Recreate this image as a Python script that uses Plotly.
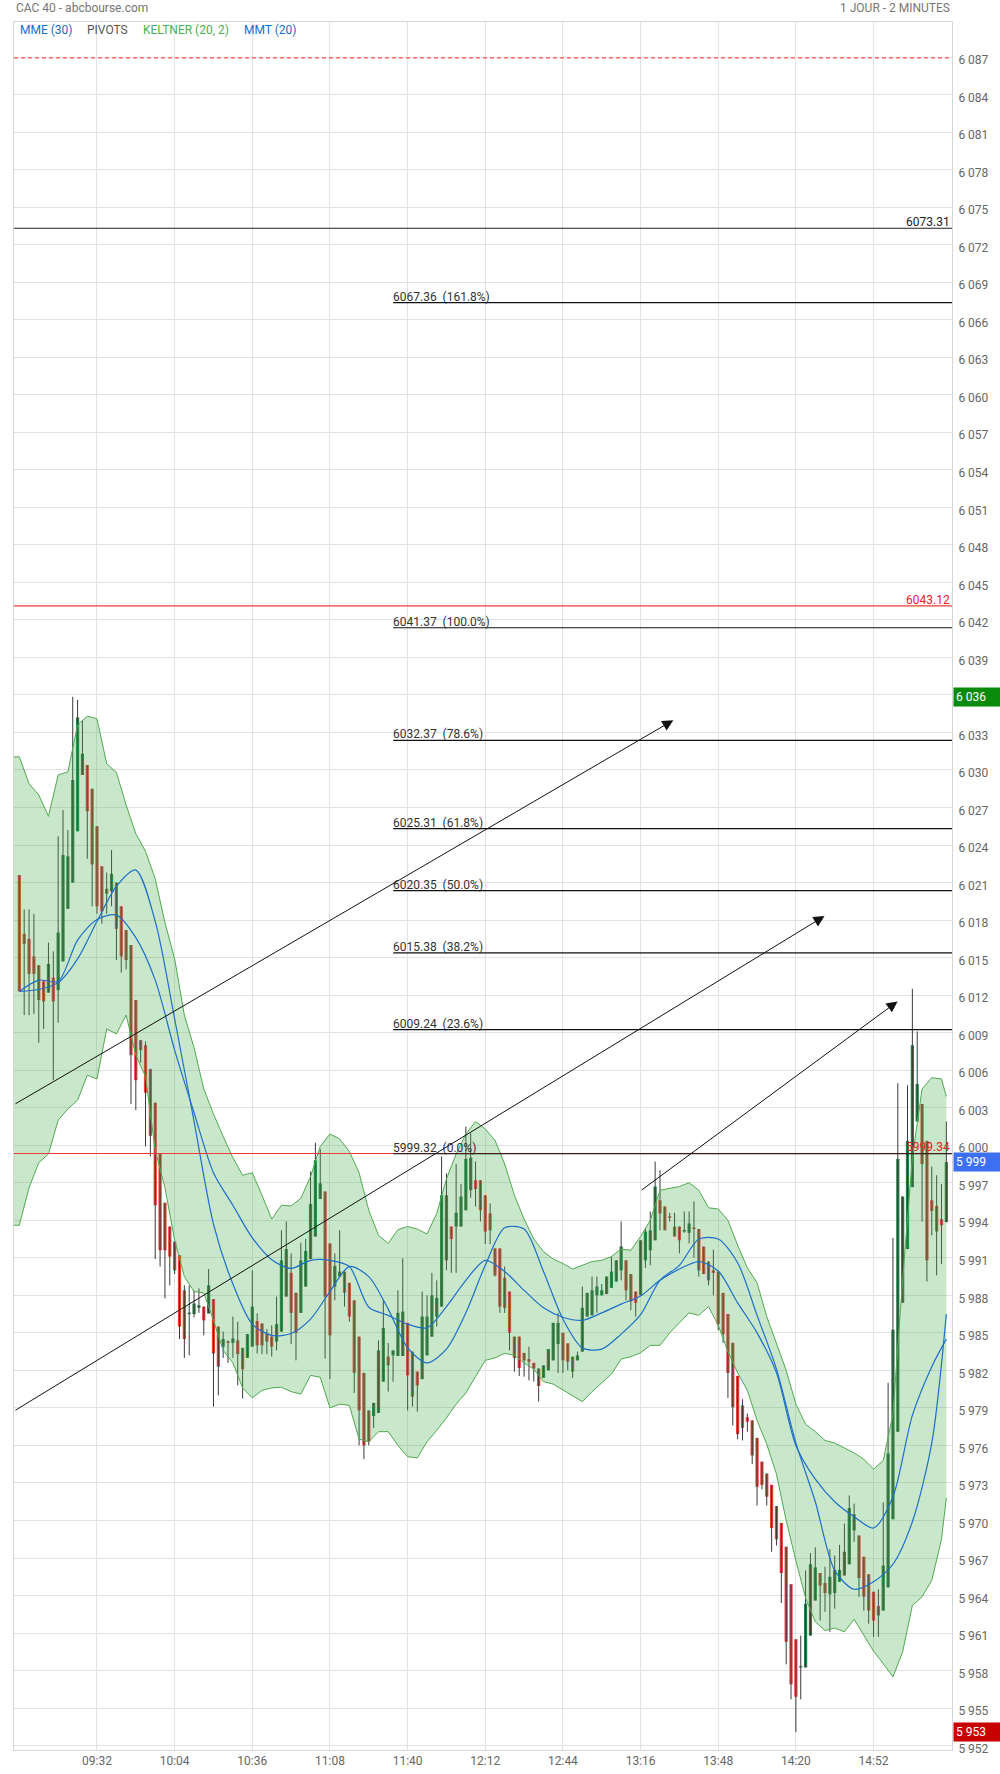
import plotly.graph_objects as go
import pandas as pd

# ---------------- data ----------------
DAY = "2019-11-29"
START = pd.Timestamp(f"{DAY} 09:00")
STEP = pd.Timedelta(minutes=2)

opens = [6021.6, 6016.9, 6016.5, 6015.1, 6014.4, 6013.1, 6012.2, 6013.4, 6012.4, 6014.7,
         6018.9, 6021.0, 6025.1, 6029.6, 6030.4, 6028.5, 6025.5, 6022.3, 6020.5, 6020.3,
         6021.0, 6019.1, 6017.2, 6016.0, 6011.6, 6008.4, 6008.0, 6006.1, 6003.4, 5999.3,
         5995.4, 5993.5, 5992.3, 5991.2, 5988.4, 5986.5, 5986.5, 5987.0, 5987.1, 5986.55,
         5987.7, 5985.5, 5983.9, 5984.3, 5984.2, 5984.4, 5983.8, 5983.0, 5983.9, 5985.95,
         5985.75, 5984.95, 5984.7, 5984.3, 5985.1, 5987.9, 5989.8, 5988.2, 5986.6, 5988.7,
         5990.9, 5992.7, 5995.7, 5996.3, 5992.15, 5988.7, 5989.5, 5989.9, 5989.0, 5987.6,
         5984.7, 5981.8, 5978.8, 5978.35, 5978.6, 5981.1, 5983.1, 5983.2, 5983.15, 5983.15,
         5985.8, 5983.5, 5981.9, 5981.3, 5983.2, 5984.7, 5986.3, 5987.1, 5990.8, 5993.5,
         5993.5, 5993.5, 5994.8, 5996.4, 5997.2, 5997.2, 5996.0, 5994.55, 5991.75, 5991.75,
         5989.4, 5988.3, 5984.7, 5984.7, 5983.4, 5982.9, 5982.6, 5982.15, 5981.4, 5982.0,
         5982.8, 5984.1, 5985.0, 5984.16, 5983.1, 5982.8, 5983.5, 5986.3, 5986.4, 5988.0,
         5988.0, 5988.1, 5988.6, 5989.1, 5990.0, 5990.8, 5989.7, 5988.3, 5988.0, 5990.8,
         5991.6, 5992.4, 5995.6, 5995.1, 5994.3, 5993.5, 5993.5, 5993.1, 5993.0, 5993.4,
         5993.3, 5991.9, 5990.7, 5990.0, 5989.9, 5988.2, 5986.5, 5984.2, 5981.56, 5979.2,
         5978.25, 5978.0, 5976.6, 5974.7, 5973.75, 5972.85, 5971.15, 5969.8, 5967.9, 5964.9,
         5960.5, 5958.25, 5958.25, 5960.8, 5963.6, 5965.8, 5965.0, 5964.1, 5964.2, 5965.1,
         5965.6, 5966.5, 5969.2, 5968.8, 5967.1, 5965.7, 5964.3, 5963.15, 5962.8, 5964.65,
         5970.1, 5977.1, 5987.4, 5991.7, 5996.65, 6001.9, 6003.3, 6000.35, 5995.6, 5995.15,
         5994.1, 5993.85]

highs = [6021.6, 6018.85, 6018.85, 6018.5, 6014.4, 6013.2, 6016.2, 6015.5, 6024.7, 6026.8,
         6025.2, 6035.85, 6035.6, 6034.0, 6030.4, 6028.5, 6025.5, 6022.3, 6021.8, 6023.6,
         6021.0, 6019.1, 6017.2, 6016.0, 6011.6, 6008.4, 6008.3, 6006.1, 6003.4, 5999.3,
         5995.4, 5993.5, 5992.3, 5991.2, 5988.8, 5988.8, 5988.4, 5988.55, 5987.1, 5990.1,
         5987.7, 5985.5, 5985.1, 5984.4, 5986.3, 5985.9, 5983.8, 5984.9, 5990.0, 5986.55,
         5985.75, 5985.3, 5985.6, 5987.9, 5993.2, 5993.9, 5991.35, 5988.2, 5992.2, 5992.5,
         5997.9, 6000.2, 5999.7, 5996.3, 5992.15, 5991.35, 5993.2, 5989.9, 5989.0, 5987.6,
         5984.7, 5981.8, 5978.8, 5979.4, 5984.4, 5987.6, 5984.2, 5983.6, 5988.4, 5990.96,
         5985.8, 5983.5, 5981.9, 5988.3, 5988.0, 5989.8, 5989.2, 5999.1, 5997.75, 5993.5,
         5998.5, 5996.9, 6001.5, 6000.95, 5998.7, 5997.2, 5996.0, 5995.35, 5991.75, 5991.75,
         5990.3, 5988.3, 5984.7, 5984.7, 5983.4, 5983.9, 5982.6, 5982.15, 5982.4, 5983.7,
         5985.8, 5986.6, 5985.0, 5984.16, 5983.1, 5983.5, 5988.7, 5988.2, 5989.5, 5989.5,
         5988.9, 5989.5, 5991.1, 5990.8, 5993.9, 5990.8, 5989.7, 5988.3, 5992.4, 5993.4,
         5994.7, 5998.7, 5998.0, 5995.1, 5994.6, 5994.6, 5993.5, 5994.7, 5994.7, 5995.5,
         5993.3, 5991.9, 5990.7, 5991.65, 5989.9, 5988.2, 5986.5, 5984.2, 5981.56, 5979.7,
         5978.55, 5978.0, 5976.6, 5974.7, 5973.75, 5972.85, 5971.15, 5969.8, 5967.9, 5964.9,
         5960.5, 5960.8, 5966.0, 5967.4, 5967.85, 5965.8, 5966.3, 5967.7, 5967.2, 5968.05,
         5969.75, 5972.0, 5971.35, 5968.8, 5967.1, 5965.7, 5964.3, 5964.5, 5971.45, 5981.0,
         5992.6, 6004.96, 5995.9, 6004.8, 6012.5, 6009.1, 6003.3, 6000.35, 5998.3, 5997.6,
         5996.9, 6001.9]

lows = [6012.3, 6010.4, 6010.4, 6010.5, 6008.2, 6009.3, 6012.2, 6005.2, 6009.8, 6014.7,
        6018.9, 6021.0, 6025.1, 6029.6, 6022.9, 6019.1, 6018.5, 6017.7, 6018.5, 6019.1,
        6014.8, 6013.8, 6014.05, 6003.3, 6002.8, 6006.6, 5999.9, 5999.1, 5990.9, 5990.3,
        5987.75, 5988.8, 5989.7, 5984.5, 5983.0, 5983.2, 5986.25, 5986.6, 5984.8, 5986.55,
        5979.1, 5980.0, 5983.0, 5982.6, 5983.0, 5980.8, 5979.75, 5983.0, 5983.9, 5983.35,
        5983.3, 5983.3, 5983.1, 5983.6, 5985.1, 5987.9, 5984.1, 5982.8, 5986.6, 5988.7,
        5990.9, 5992.7, 5995.7, 5982.95, 5981.3, 5987.6, 5989.5, 5987.1, 5985.9, 5980.2,
        5976.0, 5974.9, 5976.0, 5977.4, 5978.6, 5981.1, 5980.3, 5981.1, 5983.15, 5983.15,
        5978.8, 5979.1, 5978.7, 5981.3, 5983.2, 5984.7, 5985.5, 5987.1, 5990.0, 5989.8,
        5989.8, 5993.5, 5994.8, 5995.8, 5995.1, 5993.9, 5992.1, 5992.1, 5989.5, 5986.6,
        5986.6, 5983.6, 5981.9, 5981.55, 5981.5, 5981.2, 5981.1, 5979.5, 5981.4, 5982.0,
        5982.8, 5981.8, 5981.8, 5982.0, 5981.4, 5982.8, 5983.5, 5986.3, 5986.4, 5986.6,
        5988.0, 5988.1, 5988.6, 5989.1, 5989.2, 5987.6, 5986.8, 5986.3, 5988.0, 5990.2,
        5990.4, 5992.4, 5993.2, 5993.2, 5993.9, 5992.7, 5991.35, 5993.0, 5992.15, 5991.0,
        5989.5, 5989.7, 5988.8, 5988.0, 5985.2, 5984.2, 5979.8, 5977.6, 5976.5, 5976.4,
        5977.1, 5974.5, 5971.2, 5972.5, 5971.2, 5967.5, 5968.0, 5963.4, 5958.5, 5955.7,
        5953.1, 5955.7, 5958.25, 5960.8, 5963.6, 5962.0, 5962.7, 5961.1, 5962.95, 5965.1,
        5965.6, 5966.5, 5968.3, 5963.9, 5962.8, 5961.75, 5960.7, 5960.7, 5962.8, 5964.65,
        5970.1, 5977.1, 5987.4, 5991.7, 5996.65, 6001.9, 5993.9, 5989.1, 5992.8, 5989.6,
        5990.5, 5993.85]

closes = [6012.3, 6016.1, 6013.7, 6013.7, 6011.6, 6011.5, 6014.5, 6011.5, 6017.0, 6023.2,
          6023.1, 6029.2, 6034.2, 6031.3, 6026.7, 6022.45, 6019.1, 6018.7, 6020.1, 6021.7,
          6017.3, 6015.1, 6014.8, 6007.2, 6005.2, 6007.6, 6004.2, 6000.75, 5995.2, 5991.6,
          5991.6, 5991.1, 5990.0, 5985.5, 5984.5, 5986.6, 5987.35, 5987.2, 5986.0, 5988.8,
          5983.35, 5982.3, 5984.5, 5984.2, 5984.55, 5983.3, 5982.1, 5984.9, 5987.1, 5984.0,
          5984.0, 5984.3, 5983.9, 5985.7, 5990.8, 5991.7, 5986.6, 5985.0, 5990.8, 5991.55,
          5995.3, 5998.8, 5996.95, 5987.9, 5984.8, 5990.35, 5989.9, 5988.2, 5986.3, 5981.8,
          5978.8, 5976.0, 5976.3, 5979.4, 5983.6, 5985.4, 5982.4, 5983.6, 5986.6, 5986.7,
          5981.6, 5979.9, 5980.8, 5986.3, 5986.3, 5988.0, 5987.8, 5996.0, 5996.0, 5992.5,
          5994.6, 5995.9, 5998.9, 5999.0, 5996.5, 5994.8, 5993.1, 5993.2, 5989.6, 5987.1,
          5987.0, 5985.0, 5983.0, 5982.2, 5982.8, 5982.7, 5982.15, 5980.75, 5982.4, 5983.7,
          5985.8, 5985.8, 5982.8, 5982.7, 5981.9, 5983.2, 5987.0, 5988.2, 5988.4, 5988.7,
          5988.4, 5989.5, 5989.9, 5990.8, 5991.9, 5988.4, 5987.5, 5987.4, 5992.4, 5993.1,
          5993.2, 5996.7, 5994.55, 5993.2, 5994.2, 5992.7, 5992.4, 5993.2, 5993.75, 5993.3,
          5990.0, 5989.7, 5989.2, 5989.8, 5985.7, 5984.9, 5981.8, 5979.05, 5976.9, 5977.4,
          5977.9, 5975.2, 5972.7, 5972.85, 5971.9, 5969.4, 5968.5, 5965.8, 5960.3, 5956.9,
          5955.9, 5958.3, 5963.35, 5966.5, 5966.25, 5964.8, 5964.2, 5965.5, 5966.05, 5966.05,
          5967.5, 5971.0, 5970.5, 5965.4, 5963.9, 5962.8, 5962.0, 5962.4, 5966.4, 5975.35,
          5985.25, 5998.9, 5995.9, 6000.35, 6008.0, 6004.9, 5998.5, 5990.8, 5994.75, 5993.1,
          5993.6, 5998.65]

# Keltner (20, 2) channel read every 2 bars (bar index -> value)
band_idx = [-1.2] + list(range(0, 191, 2)) + [191]
kelt_upper = [6031.05, 6031.05, 6028.9, 6028.0, 6026.3, 6029.6, 6029.85, 6033.6, 6034.3, 6034.1,
              6030.5, 6029.8, 6027.2, 6024.9, 6023.5, 6021.3, 6017.8, 6014.9, 6010.4, 6007.8,
              6004.5, 6002.5, 6000.7, 5999.0, 5997.6, 5997.8, 5996.0, 5994.1, 5995.2, 5995.15,
              5995.75, 5997.5, 5999.9, 6000.9, 6000.5, 5999.5, 5997.8, 5994.8, 5992.8, 5992.15,
              5993.25, 5993.5, 5993.3, 5992.9, 5994.55, 5997.3, 5999.3, 6000.9, 6001.9, 6001.3,
              6000.4, 5998.5, 5996.0, 5994.1, 5992.5, 5991.5, 5990.9, 5990.55, 5990.1, 5990.4,
              5990.7, 5990.8, 5991.1, 5991.7, 5991.6, 5992.7, 5994.0, 5996.4, 5996.55, 5996.7,
              5997.0, 5996.4, 5995.0, 5994.9, 5994.0, 5992.0, 5990.2, 5989.0, 5986.3, 5984.2,
              5982.0, 5979.3, 5977.7, 5977.1, 5976.4, 5976.2, 5975.8, 5975.4, 5974.9, 5974.1,
              5974.8, 5978.5, 5989.3, 5999.0, 6004.5, 6005.4, 6005.3, 6003.9]
kelt_lower = [5993.6, 5993.6, 5996.6, 5998.6, 5999.3, 6002.0, 6002.9, 6003.6, 6005.6, 6005.3,
              6009.3, 6008.9, 6010.4, 6007.2, 6005.5, 5999.6, 5996.6, 5992.4, 5989.5, 5988.3,
              5988.2, 5986.0, 5983.6, 5982.6, 5980.6, 5979.8, 5980.4, 5980.6, 5980.65, 5980.3,
              5980.1, 5981.6, 5981.45, 5979.0, 5979.3, 5979.2, 5976.5, 5976.3, 5977.1, 5977.1,
              5976.0, 5975.1, 5975.0, 5976.3, 5977.2, 5978.2, 5979.3, 5980.2, 5981.5, 5982.8,
              5983.0, 5983.36, 5983.2, 5982.6, 5982.1, 5981.1, 5980.9, 5980.45, 5980.0, 5979.5,
              5980.3, 5981.0, 5981.7, 5982.9, 5983.1, 5983.4, 5984.0, 5984.0, 5985.0, 5985.8,
              5986.6, 5986.4, 5987.1, 5985.6, 5983.5, 5981.8, 5980.4, 5978.0, 5976.1, 5973.7,
              5970.0, 5966.8, 5963.8, 5961.9, 5961.2, 5961.4, 5961.1, 5962.1, 5960.8, 5959.55,
              5958.55, 5957.5, 5959.5, 5963.2, 5963.9, 5965.2, 5968.5, 5971.8]

# moving averages read every 4 bars
ma_idx = list(range(0, 189, 4)) + [191]
mmt20 = [6012.3, 6012.45, 6013.0, 6014.9, 6017.9, 6020.7, 6022.0, 6017.9, 6010.1, 6001.9,
         5993.7, 5988.9, 5985.7, 5984.8, 5984.95, 5986.1, 5988.3, 5990.3, 5989.5, 5986.9,
         5983.8, 5982.6, 5983.7, 5986.6, 5990.4, 5993.4, 5993.3, 5989.9, 5986.1, 5983.8,
         5983.7, 5984.9, 5986.45, 5989.2, 5990.4, 5992.5, 5992.5, 5990.6, 5986.4, 5982.1,
         5976.2, 5971.5, 5966.0, 5964.5, 5965.1, 5966.5, 5969.9, 5976.2, 5986.5]
mme30 = [6012.3, 6013.2, 6013.1, 6016.4, 6018.05, 6018.4, 6016.6, 6013.2, 6007.6, 6002.6,
         5997.8, 5995.2, 5992.6, 5990.85, 5990.15, 5990.8, 5990.8, 5990.3, 5987.05, 5986.4,
         5985.7, 5985.4, 5987.1, 5989.2, 5990.8, 5989.9, 5988.4, 5987.0, 5986.25, 5986.0,
         5986.6, 5987.3, 5987.95, 5989.2, 5990.1, 5990.7, 5989.95, 5987.4, 5985.0, 5981.8,
         5976.0, 5973.3, 5971.5, 5970.3, 5969.4, 5971.9, 5978.4, 5982.3, 5984.5]

# pivots (full width)
pivot_dashed = 6086.93
pivot_black = 6073.31
pivot_red = [6043.12, 5999.34]

# Fibonacci retracement levels
fib_start = f"{DAY} 11:34:04"
fib_levels = [6067.36, 6041.37, 6032.37, 6025.31, 6020.35, 6015.38, 6009.24, 5999.32]
fib_pcts = ["161.8%", "100.0%", "78.6%", "61.8%", "50.0%", "38.2%", "23.6%", "0.0%"]

# trend arrows: (start time, start price, tip time, tip price)
trend_lines = [
    (f"{DAY} 08:57:46", 6003.24, f"{DAY} 13:29:30", 6033.98),
    (f"{DAY} 08:57:46", 5978.74, f"{DAY} 14:31:48", 6018.32),
    (f"{DAY} 13:15:48", 5996.33, f"{DAY} 15:01:54", 6011.5),
]

x_ticks = ["09:32", "10:04", "10:36", "11:08", "11:40", "12:12", "12:44", "13:16", "13:48", "14:20", "14:52"]

# ---------------- styles ----------------
FONT = "Roboto, 'Open Sans', Arial, sans-serif"
UP = "#2b7d45"
DOWN = "#e8413c"
WICK = "#3a3a3a"
BAND_LINE = "#52a852"
BAND_FILL = "rgba(76,175,80,0.30)"
MA_BLUE = "#1f6fc8"
RED = "#f03a3a"
GRID = "#e2e2e2"

times = [START + k * STEP for k in range(len(opens))]

fig = go.Figure()

# wicks
wx, wy = [], []
for t, h, l in zip(times, highs, lows):
    wx += [t, t, None]
    wy += [l, h, None]
fig.add_trace(go.Scatter(x=wx, y=wy, mode="lines", line=dict(color=WICK, width=1),
                         hoverinfo="skip", connectgaps=False))

# bodies
for is_up, col in [(True, UP), (False, DOWN)]:
    bx, bb, bh = [], [], []
    for t, o, c in zip(times, opens, closes):
        if (c >= o) == is_up:
            bx.append(t)
            bb.append(min(o, c))
            bh.append(max(abs(c - o), 0.12))
    fig.add_trace(go.Bar(x=bx, y=bh, base=bb, width=80000,
                         marker=dict(color=col, line=dict(width=0)), hoverinfo="skip"))

# Keltner band (drawn over candles)
bt = [START + STEP * k for k in band_idx]
fig.add_trace(go.Scatter(x=bt, y=kelt_lower, mode="lines",
                         line=dict(color=BAND_LINE, width=1), hoverinfo="skip"))
fig.add_trace(go.Scatter(x=bt, y=kelt_upper, mode="lines", fill="tonexty",
                         fillcolor=BAND_FILL, line=dict(color=BAND_LINE, width=1), hoverinfo="skip"))

# moving averages
mt = [START + STEP * k for k in ma_idx]
fig.add_trace(go.Scatter(x=mt, y=mme30, mode="lines", line=dict(color=MA_BLUE, width=1.2, shape="spline", smoothing=0.8), hoverinfo="skip"))
fig.add_trace(go.Scatter(x=mt, y=mmt20, mode="lines", line=dict(color=MA_BLUE, width=1.2, shape="spline", smoothing=0.8), hoverinfo="skip"))

x_range = [f"{DAY} 08:57:48", f"{DAY} 15:24:20"]

shapes = []
shapes.append(dict(type="line", xref="paper", x0=0, x1=1, yref="y", y0=pivot_dashed, y1=pivot_dashed,
                   line=dict(color="#ff2a2a", width=1, dash="4px,3px"), layer="above"))
shapes.append(dict(type="line", xref="paper", x0=0, x1=1, yref="y", y0=pivot_black, y1=pivot_black,
                   line=dict(color="#222222", width=1), layer="above"))
for v in pivot_red:
    shapes.append(dict(type="line", xref="paper", x0=0, x1=1, yref="y", y0=v, y1=v,
                       line=dict(color=RED, width=1.2), layer="above"))
for v in fib_levels:
    shapes.append(dict(type="line", xref="x", x0=fib_start, x1=x_range[1], yref="y", y0=v, y1=v,
                       line=dict(color="#111111", width=1.2), layer="above"))

ann = []
# header
ann.append(dict(text="CAC 40 - abcbourse.com", xref="paper", yref="paper", x=0, y=1,
                xanchor="left", yanchor="bottom", yshift=5, showarrow=False,
                font=dict(family=FONT, size=12, color="#777777")))
ann.append(dict(text="1 JOUR - 2 MINUTES", xref="paper", yref="paper", x=1, y=1,
                xanchor="right", yanchor="bottom", yshift=5, showarrow=False,
                font=dict(family=FONT, size=12, color="#777777")))
# indicator legend
legend_items = [("MME (30)", "#1a6cc4", 19), ("PIVOTS", "#555555", 86), ("KELTNER (20, 2)", "#4caf50", 142), ("MMT (20)", "#1a6cc4", 243)]
for txt, col, px in legend_items:
    ann.append(dict(text=txt, xref="paper", yref="paper", x=(px - 15) / 937, y=1,
                    xanchor="left", yanchor="top", yshift=1, showarrow=False,
                    font=dict(family=FONT, size=12, color=col)))
# pivot labels
ann.append(dict(text=f"{pivot_black:.2f}", xref="paper", x=1, xanchor="right", y=pivot_black, yref="y",
                yanchor="bottom", yshift=-3, showarrow=False, font=dict(family=FONT, size=12, color="#222222")))
for v in pivot_red:
    ann.append(dict(text=f"{v:.2f}", xref="paper", x=1, xanchor="right", y=v, yref="y",
                    yanchor="bottom", yshift=-3, showarrow=False, font=dict(family=FONT, size=12, color="#ee2020")))
# fib labels
for v, p in zip(fib_levels, fib_pcts):
    ann.append(dict(text=f"{v:.2f}\u00a0\u00a0({p})", xref="x", x=fib_start, xanchor="left", y=v, yref="y",
                    yanchor="bottom", yshift=-3, xshift=-2, showarrow=False,
                    font=dict(family=FONT, size=12, color="#333333")))
# trend arrows
for x0, y0, x1, y1 in trend_lines:
    ann.append(dict(text="", x=x1, y=y1, xref="x", yref="y", ax=x0, ay=y0, axref="x", ayref="y",
                    showarrow=True, arrowhead=2, arrowsize=2.2, arrowwidth=1, arrowcolor="#111111"))
# price boxes on the right axis
def fmt(v):
    s = f"{round(v):d}"
    return s[0] + " " + s[1:]
boxes = [(max(highs), "#0a8a0a"), (closes[-1], "#3d6ff2"), (min(lows), "#c80000")]
for v, bg in boxes:
    ann.append(dict(text=fmt(v), xref="paper", x=1, xanchor="left", xshift=1, y=v, yref="y",
                    yanchor="middle", showarrow=False, bgcolor=bg, width=42, align="left", borderpad=2,
                    font=dict(family=FONT, size=12, color="white")))

fig.update_layout(
    width=1000, height=1774,
    margin=dict(l=14, r=48, t=22, b=24, autoexpand=False),
    paper_bgcolor="white", plot_bgcolor="white",
    showlegend=False, barmode="overlay", hovermode=False,
    separators=". ",
    font=dict(family=FONT, size=12, color="#666666"),
    shapes=shapes, annotations=ann,
    xaxis=dict(type="date", range=x_range, automargin=False,
               tickvals=[f"{DAY} {t}" for t in x_ticks], ticktext=x_ticks,
               showgrid=True, gridcolor=GRID, gridwidth=1,
               showline=True, linecolor="#d6d6d6", mirror=True, zeroline=False,
               ticks="", tickfont=dict(family=FONT, size=12, color="#666666")),
    yaxis=dict(side="right", range=[5951.65, 6089.8], dtick=3, tick0=0, tickformat=",d",
               automargin=False,
               showgrid=True, gridcolor=GRID, gridwidth=1,
               showline=True, linecolor="#d6d6d6", mirror=True, zeroline=False,
               ticks="", ticklabelstandoff=3, ticklabelshift=3,
               tickfont=dict(family=FONT, size=12, color="#666666")),
)

# remove the default page margin so the 1000x1774 figure fills the window exactly
fig.write_html("out.html", config={"displayModeBar": False, "staticPlot": True},
               post_script="document.body.style.margin='0px';document.body.style.overflow='hidden';")
